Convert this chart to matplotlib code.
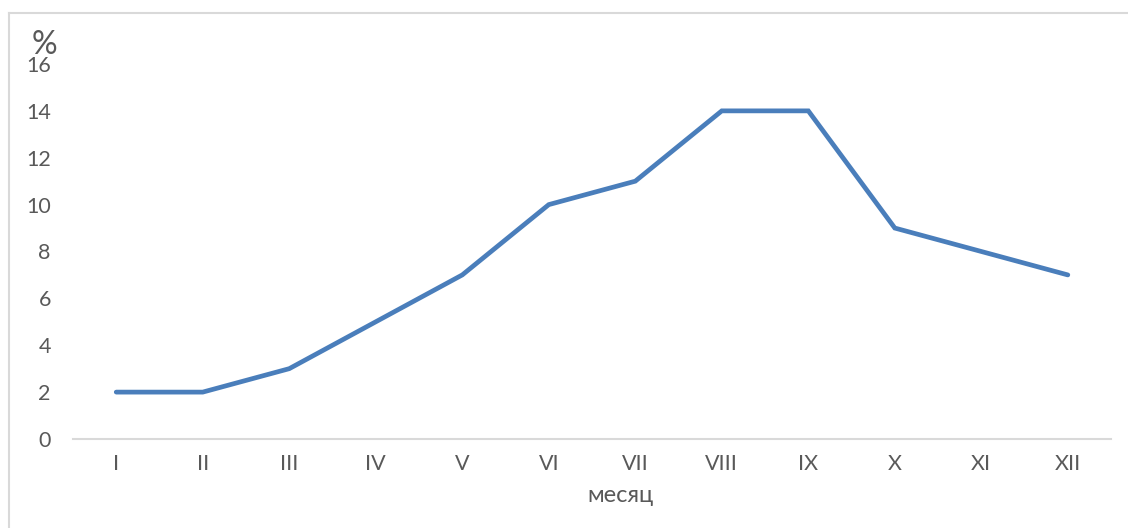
import matplotlib.pyplot as plt
from matplotlib.lines import Line2D

months = ["I", "II", "III", "IV", "V", "VI", "VII", "VIII", "IX", "X", "XI", "XII"]
percent = [2, 2, 3, 5, 7, 10, 11, 14, 14, 9, 8, 7]
yticks = [0, 2, 4, 6, 8, 10, 12, 14, 16]

plt.rcParams['font.family'] = ['Lato', 'DejaVu Sans']

fig = plt.figure(figsize=(11.28, 5.28), dpi=100)
ax = fig.add_axes([0.0647, 0.1686, 0.9203, 0.7102])

ax.plot(range(len(months)), percent, c='#4A7EBB', lw=3.4, solid_joinstyle='miter', solid_capstyle='round')
ax.set_xlim(-0.5, len(months) - 0.5)
ax.set_ylim(0, 16)
ax.set_xticks(range(len(months)))
ax.set_xticklabels(months)
ax.set_yticks(yticks)

for s in ['top', 'right', 'left']:
    ax.spines[s].set_visible(False)
ax.spines['bottom'].set_color('#D9D9D9')
ax.spines['bottom'].set_linewidth(1.5)
ax.tick_params(length=0, labelsize=15.5, colors='#595959', pad=11)
ax.tick_params(axis='y', pad=16)

fig.text(44 / 1128, 1 - 45 / 528, '%', fontsize=23, color='#595959', ha='center', va='center')
fig.text(621 / 1128, 1 - 496 / 528, 'месяц', fontsize=17, color='#595959', ha='center', va='center')

# chart frame (only top and left edges are visible)
fig.add_artist(Line2D([9 / 1128, 9 / 1128], [0, 1 - 13 / 528], color='#D9D9D9', lw=1.5))
fig.add_artist(Line2D([9 / 1128, 1], [1 - 13 / 528, 1 - 13 / 528], color='#D9D9D9', lw=1.5))

fig.savefig('out.png', dpi=100)
